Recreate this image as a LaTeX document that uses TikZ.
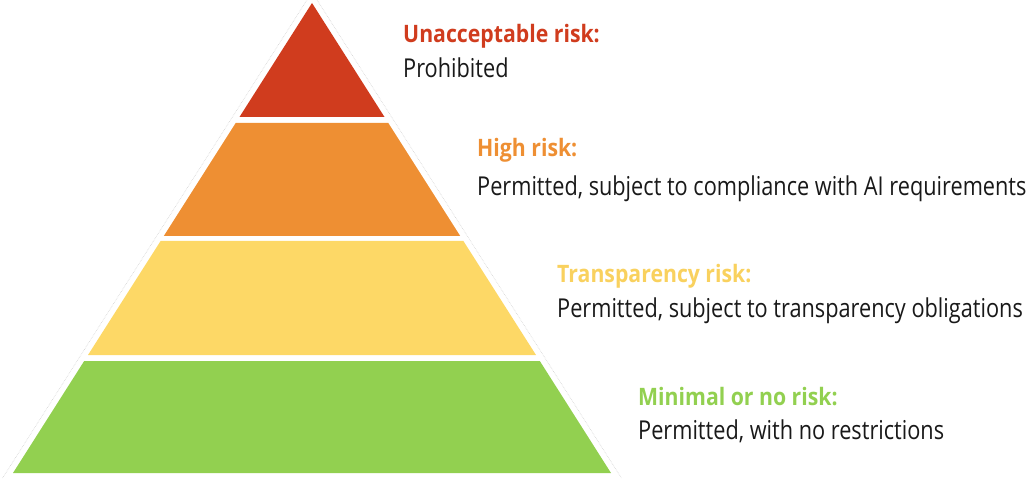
\documentclass[tikz,border=0pt]{standalone}
\usepackage{fontspec}
\setmainfont{Open Sans}
\newfontfamily\headfont{Open Sans}[FakeStretch=0.885]
\newfontfamily\descfont{Open Sans}[FakeStretch=0.835]
\definecolor{riskred}{HTML}{D03C1E}
\definecolor{riskorange}{HTML}{EE8F33}
\definecolor{riskyellow}{HTML}{FDD866}
\definecolor{riskgreen}{HTML}{92D050}
\definecolor{headyellow}{HTML}{F9D15E}
\begin{document}
\begin{tikzpicture}[x=1pt,y=-1pt,
  heading/.style={anchor=base west,inner sep=0pt,font=\headfont\fontsize{24}{28}\selectfont\bfseries,text=#1},
  desc/.style={anchor=base west,inner sep=0pt,font=\descfont\fontsize{26}{30}\selectfont,text=black!90}]
\useasboundingbox (0,0) rectangle (1029,481);
% faint outline around the pyramid
\draw[gray!35,densely dotted,line width=0.6pt] (2.6,478) -- (312,-8) -- (621.4,478);
% pyramid layers
\fill[riskred]    (312,3) -- (384.5,117) -- (239.5,117) -- cycle;
\fill[riskorange] (235.7,123) -- (388.3,123) -- (460.2,236) -- (163.8,236) -- cycle;
\fill[riskyellow] (160.6,241) -- (463.4,241) -- (536,355) -- (88,355) -- cycle;
\fill[riskgreen]  (84.2,361) -- (539.8,361) -- (611,473) -- (13,473) -- cycle;
% labels
\node[heading=riskred]    (h1) at (403,43)  {Unacceptable risk:};
\node[desc]               (d1) at (403,78)  {Prohibited};
\node[heading=riskorange] (h2) at (477,157) {High risk:};
\node[desc]               (d2) at (477,196) {Permitted, subject to compliance with AI requirements};
\node[heading=headyellow] (h3) at (557,283) {Transparency risk:};
\node[desc]               (d3) at (557,318) {Permitted, subject to transparency obligations};
\node[heading=riskgreen]  (h4) at (638,405) {Minimal or no risk:};
\node[desc]               (d4) at (638,439) {Permitted, with no restrictions};
\end{tikzpicture}
\end{document}
